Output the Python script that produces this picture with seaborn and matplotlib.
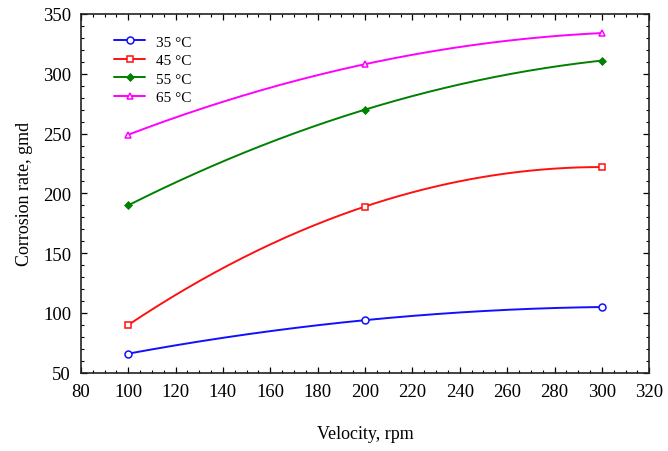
import numpy as np
import pandas as pd
import matplotlib
matplotlib.use("Agg")
import matplotlib.pyplot as plt
import seaborn as sns
from matplotlib.ticker import MultipleLocator

velocity = [100, 200, 300]
rate_35 = [66, 94, 105]
rate_45 = [90, 189, 222]
rate_55 = [190, 270, 311]
rate_65 = [249, 308, 334]
labels = ["35 °C", "45 °C", "55 °C", "65 °C"]

sns.set_theme(style="ticks")
plt.rcParams["font.family"] = ["Liberation Serif", "DejaVu Serif"]
plt.rcParams["text.color"] = "black"
plt.rcParams["axes.labelcolor"] = "black"

colors = ["#1010ff", "#ff1010", "#008000", "#ff00ff"]
markers = ["o", "s", "D", "^"]
msizes = [5, 5, 3.5, 4]
mfaces = ["none", "none", None, "none"]

fig = plt.figure(figsize=(6.68, 4.52), dpi=100)
ax = fig.add_axes([0.121, 0.173, 0.851, 0.794])

series = [rate_35, rate_45, rate_55, rate_65]
xs = np.linspace(velocity[0], velocity[-1], 200)
for vals, lab, c, m, ms, mf in zip(series, labels, colors, markers, msizes, mfaces):
    coef = np.polyfit(velocity, vals, 2)
    smooth = pd.DataFrame({"x": xs, "y": np.polyval(coef, xs)})
    pts = pd.DataFrame({"x": velocity, "y": vals})
    sns.lineplot(data=smooth, x="x", y="y", color=c, lw=1.4, ax=ax, legend=False)
    kw = dict(marker=m, linestyle="none", color=c, markersize=ms, markeredgewidth=1.1)
    if mf == "none":
        kw["markerfacecolor"] = "white"
    ax.plot(pts["x"], pts["y"], **kw)
    ax.plot([], [], color=c, lw=1.4, marker=m, markersize=ms,
            markerfacecolor=("white" if mf == "none" else c), markeredgewidth=1.1, label=lab)

ax.set_xlim(80, 320)
ax.set_ylim(50, 350)
ax.xaxis.set_major_locator(MultipleLocator(20))
ax.xaxis.set_minor_locator(MultipleLocator(5))
ax.yaxis.set_major_locator(MultipleLocator(50))
ax.yaxis.set_minor_locator(MultipleLocator(10))
ax.tick_params(which="both", direction="in", top=True, right=True, labelsize=13.5, colors="black")
ax.tick_params(which="major", length=4, width=0.9, pad=7)
ax.tick_params(which="minor", length=2, width=0.8)
for s in ax.spines.values():
    s.set_linewidth(1.2)
    s.set_color("#222222")

ax.set_xlabel("Velocity, rpm", fontsize=13, labelpad=18)
ax.set_ylabel("Corrosion rate, gmd", fontsize=13, labelpad=7)

ax.legend(loc="upper left", bbox_to_anchor=(0.035, 0.98), frameon=False, fontsize=11,
          handlelength=2.0, labelspacing=0.32, handletextpad=0.7)

fig.savefig("out.png", dpi=100, facecolor="white")
